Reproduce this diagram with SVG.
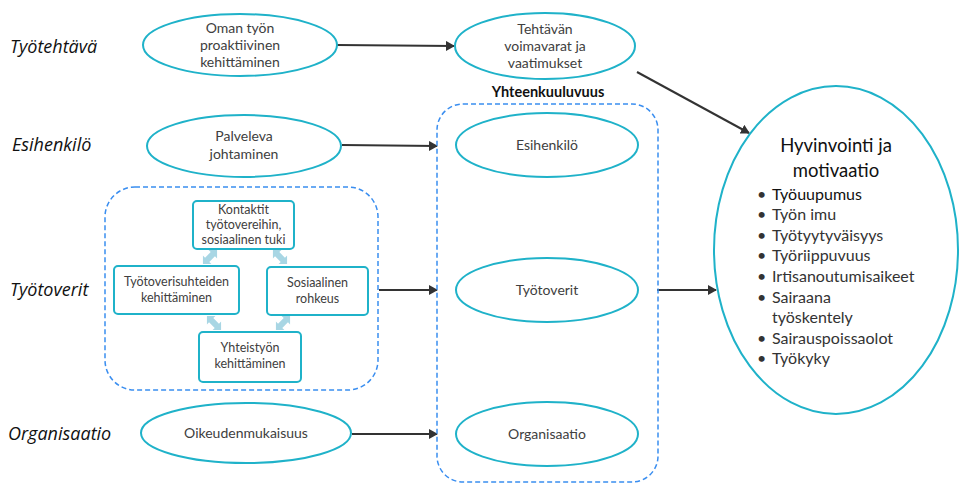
<svg xmlns="http://www.w3.org/2000/svg" width="959" height="484" viewBox="0 0 959 484">
<defs>
<marker id="ah" markerWidth="10" markerHeight="10" refX="8" refY="5" orient="auto" markerUnits="userSpaceOnUse"><path d="M0,0 L9,5 L0,10 Z" fill="#333"/></marker>
<path id="dbl" d="M-10,0 L-4,-6 L-4,-3 L4,-3 L4,-6 L10,0 L4,6 L4,3 L-4,3 L-4,6 Z" fill="#a8d6e4"/>
</defs>
<style>
.el{fill:#fff;stroke:#1fb2c9;stroke-width:2}
.bx{fill:#fff;stroke:#1fb2c9;stroke-width:2}
.dash{fill:none;stroke:#3a8ef0;stroke-width:1.5;stroke-dasharray:5 3}
.t{font-family:Lato,"Open Sans",sans-serif;font-size:14px;fill:#404040;text-anchor:middle}
.ts{font-family:Lato,"Open Sans",sans-serif;font-size:12.5px;fill:#404040;text-anchor:middle}
.lab{font-family:"Open Sans","Noto Sans",sans-serif;font-size:18px;font-style:italic;fill:#111}
.big{font-family:Lato,"Open Sans",sans-serif;font-size:18.5px;fill:#111;text-anchor:middle}
.li{font-family:Lato,"Open Sans",sans-serif;font-size:16px;fill:#333}
.cn{stroke:#333;stroke-width:2;fill:none;marker-end:url(#ah)}
</style>
<g id="labels">
<text class="lab" x="10" y="53">Työtehtävä</text>
<text class="lab" x="12" y="151">Esihenkilö</text>
<text class="lab" x="10" y="296">Työtoverit</text>
<text class="lab" x="8" y="440">Organisaatio</text>
</g>
<g id="connectors">
<line class="cn" x1="337" y1="45" x2="454" y2="46"/>
<line class="cn" x1="342" y1="145" x2="437" y2="146"/>
<line class="cn" x1="379" y1="290" x2="437" y2="290"/>
<line class="cn" x1="352" y1="434" x2="437" y2="434"/>
<line class="cn" x1="637" y1="72" x2="749" y2="133"/>
<line class="cn" x1="657" y1="290" x2="716" y2="290"/>
</g>
<g id="n-oman"><ellipse class="el" cx="240" cy="45" rx="97" ry="31"/>
<text class="t" x="240" y="33">Oman työn</text><text class="t" x="240" y="50">proaktiivinen</text><text class="t" x="240" y="67">kehittäminen</text></g>
<g id="n-tehtavan"><ellipse class="el" cx="545" cy="46" rx="90" ry="33"/>
<text class="t" x="545" y="34">Tehtävän</text><text class="t" x="545" y="51">voimavarat ja</text><text class="t" x="545" y="68">vaatimukset</text></g>
<g id="n-palveleva"><ellipse class="el" cx="244" cy="146" rx="97" ry="31"/>
<text class="t" x="244" y="141">Palveleva</text><text class="t" x="244" y="159">johtaminen</text></g>
<g id="g-yhteen"><rect class="dash" x="437" y="104" width="221" height="378" rx="26"/>
<text x="548" y="97" style="font-family:Lato,'Open Sans',sans-serif;font-size:14.5px;font-weight:bold;fill:#111;text-anchor:middle">Yhteenkuuluvuus</text></g>
<g id="n-esih"><ellipse class="el" cx="547" cy="145" rx="91" ry="32"/><text class="t" x="547" y="150">Esihenkilö</text></g>
<g id="n-tyotov"><ellipse class="el" cx="547" cy="290" rx="91" ry="32"/><text class="t" x="547" y="295">Työtoverit</text></g>
<g id="n-org"><ellipse class="el" cx="547" cy="434" rx="91" ry="32"/><text class="t" x="547" y="439">Organisaatio</text></g>
<g id="n-oikeud"><ellipse class="el" cx="246" cy="433" rx="105" ry="30"/><text class="t" x="246" y="438">Oikeudenmukaisuus</text></g>
<g id="g-tyotoverit"><rect class="dash" x="105" y="187" width="273" height="203" rx="30"/>
<use href="#dbl" transform="translate(210,257) rotate(-45)"/>
<use href="#dbl" transform="translate(280,257) rotate(45)"/>
<use href="#dbl" transform="translate(214,323) rotate(45)"/>
<use href="#dbl" transform="translate(283,323) rotate(-45)"/>
</g>
<g id="n-kontaktit"><rect class="bx" x="193" y="201" width="101" height="48" rx="4"/>
<text class="ts" x="243.5" y="214">Kontaktit</text><text class="ts" x="243.5" y="229">työtovereihin,</text><text class="ts" x="243.5" y="244">sosiaalinen tuki</text></g>
<g id="n-suhteet"><rect class="bx" x="114" y="266" width="125" height="48" rx="4"/>
<text class="ts" x="176.5" y="286">Työtoverisuhteiden</text><text class="ts" x="176.5" y="302">kehittäminen</text></g>
<g id="n-rohkeus"><rect class="bx" x="267" y="267" width="101" height="48" rx="4"/>
<text class="ts" x="317.5" y="287">Sosiaalinen</text><text class="ts" x="317.5" y="303">rohkeus</text></g>
<g id="n-yhteistyo"><rect class="bx" x="199" y="332" width="102" height="50" rx="4"/>
<text class="ts" x="250" y="352">Yhteistyön</text><text class="ts" x="250" y="368">kehittäminen</text></g>
<g id="n-hyvinvointi"><ellipse class="el" cx="836" cy="250" rx="122" ry="164"/>
<text class="big" x="836" y="152">Hyvinvointi ja</text><text class="big" x="836" y="177">motivaatio</text>
<g class="li">
<text x="757" y="200">•</text><text x="772" y="200" style="fill:#111">Työuupumus</text>
<text x="757" y="220">•</text><text x="772" y="220">Työn imu</text>
<text x="757" y="241">•</text><text x="772" y="241">Työtyytyväisyys</text>
<text x="757" y="261">•</text><text x="772" y="261">Työriippuvuus</text>
<text x="757" y="282">•</text><text x="772" y="282">Irtisanoutumisaikeet</text>
<text x="757" y="303">•</text><text x="772" y="303">Sairaana</text>
<text x="772" y="323">työskentely</text>
<text x="757" y="344">•</text><text x="772" y="344">Sairauspoissaolot</text>
<text x="757" y="364">•</text><text x="772" y="364">Työkyky</text>
</g></g>
</svg>
